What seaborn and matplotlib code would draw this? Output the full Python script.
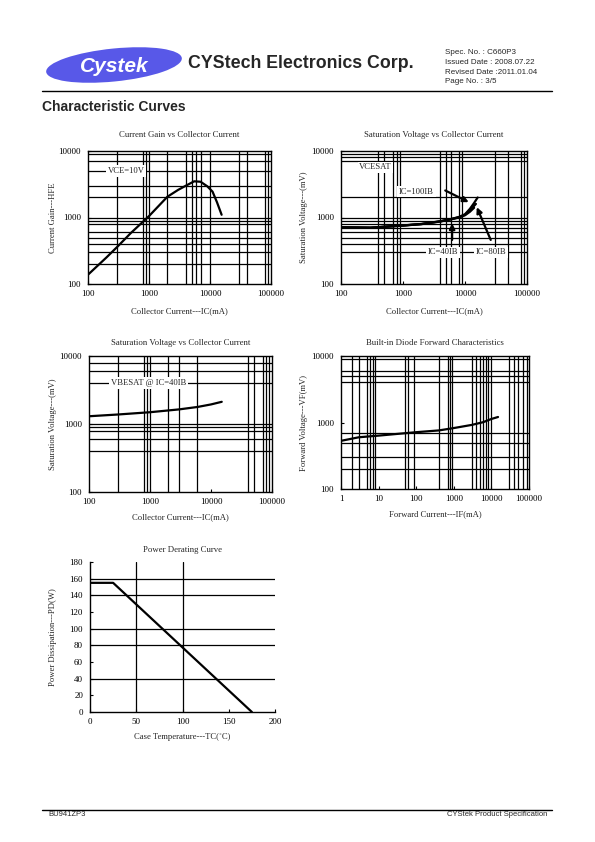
import matplotlib
matplotlib.use("Agg")
import matplotlib.pyplot as plt
from matplotlib.patches import Ellipse
from matplotlib.lines import Line2D
import seaborn as sns

# -------------------------
# Curve data
# -------------------------
gain_ic = [100, 200, 300, 500, 1000, 2000, 3000, 4000, 5500, 7000, 9000, 11000, 13000, 15500]
gain_hfe = [138, 250, 360, 580, 1050, 2050, 2600, 3000, 3500, 3450, 2950, 2450, 1700, 1100]

vce_ic_100 = [100, 300, 1000, 2000, 4000, 6000, 8000, 10000, 12000, 14000, 16000]
vce_100ib = [715, 705, 760, 800, 880, 950, 1020, 1120, 1350, 1650, 2000]
vce_ic_80 = [100, 300, 1000, 2000, 4000, 6000, 8000, 10000, 12000, 15000]
vce_80ib = [712, 702, 758, 798, 875, 945, 1010, 1100, 1280, 1600]
vce_ic_40 = [100, 300, 1000, 2000, 4000, 6000, 8000, 10000, 12000, 14000]
vce_40ib = [710, 700, 755, 795, 870, 940, 1000, 1080, 1220, 1400]

vbe_ic = [100, 300, 1000, 3000, 6000, 10000, 15000]
vbe_sat = [1300, 1380, 1490, 1640, 1780, 1940, 2120]

diode_if = [1, 3, 10, 100, 400, 1000, 3000, 6000, 10000, 15000]
diode_vf = [530, 600, 635, 715, 760, 825, 920, 1010, 1130, 1210]

derate_tc = [0, 25, 175]
derate_pd = [155, 155, 0]

# -------------------------
# Axis ticks and grid positions
# -------------------------
ic_ticks = [100, 1000, 10000, 100000]
if_ticks = [1, 10, 100, 1000, 10000, 100000]
mv_ticks = [100, 1000, 10000]
tc_ticks = [0, 50, 100, 150, 200]
pd_ticks = [0, 20, 40, 60, 80, 100, 120, 140, 160, 180]

gain_xgrid = [300, 800, 900, 1000, 2000, 4000, 5000, 6000, 7000, 10000, 30000, 40000, 80000, 90000]
gain_ygrid = [200, 300, 400, 500, 600, 800, 900, 1000, 2000, 3000, 5000, 7000, 9000]
vce_xgrid = [400, 500, 700, 800, 900, 4000, 5000, 6000, 8000, 9000, 30000, 50000, 80000, 90000]
vce_ygrid = [300, 400, 500, 600, 700, 800, 900, 1000, 2000, 7000, 8000, 9000]
vbe_xgrid = [300, 800, 900, 1000, 2000, 3000, 6000, 40000, 50000, 70000, 80000, 90000]
vbe_ygrid = [400, 600, 800, 900, 1000, 4000, 6000, 8000]
diode_xgrid = [2, 3, 5, 6, 7, 8, 50, 60, 90, 400, 700, 800, 900, 3000, 4000, 5000,
               6000, 7000, 8000, 10000, 30000, 40000, 50000, 70000, 90000]
diode_ygrid = [200, 300, 500, 700, 4000, 5000, 6000, 9000]
derate_xgrid = [50, 100]
derate_ygrid = [40, 80, 100, 140, 160]

W, H = 595, 842
SERIF = ["Liberation Serif", "DejaVu Serif"]
SANS = ["Liberation Sans", "DejaVu Sans"]

sns.set_theme(style="ticks")
plt.rcParams["font.family"] = SERIF
plt.rcParams["axes.linewidth"] = 1.0


def px_rect(left, top, right, bottom):
    return [left / W, 1 - bottom / H, (right - left) / W, (bottom - top) / H]


def style_panel(ax, title, xlabel, ylabel, xgrid, ygrid, label_dx, label_dy, title_pad):
    for g in xgrid:
        ax.axvline(g, color="black", lw=0.9, zorder=1)
    for g in ygrid:
        ax.axhline(g, color="black", lw=0.9, zorder=1)
    for sp in ax.spines.values():
        sp.set_color("black")
        sp.set_linewidth(1.0)
    ax.tick_params(direction="in", length=2.5, width=0.8, colors="black", labelsize=6.5)
    ax.tick_params(axis="x", pad=4)
    ax.tick_params(axis="y", pad=5)
    ax.set_title(title, fontsize=6.3, pad=title_pad)
    ax.set_xlabel(xlabel, fontsize=6.2)
    ax.set_ylabel(ylabel, fontsize=6.2)
    ax.xaxis.set_label_coords(0.5, label_dy)
    ax.yaxis.set_label_coords(label_dx, 0.5)
    ax.set_facecolor("white")


def log_panel(ax, xticks):
    ax.set_xscale("log")
    ax.set_yscale("log")
    ax.set_xlim(xticks[0], xticks[-1])
    ax.set_ylim(100, 10000)
    ax.set_xticks(xticks, [str(t) for t in xticks])
    ax.set_yticks(mv_ticks, [str(t) for t in mv_ticks])
    ax.minorticks_off()


fig = plt.figure(figsize=(W / 100, H / 100), dpi=100)
fig.patch.set_facecolor("white")

# -------------------------
# Page header / footer
# -------------------------
logo = Ellipse((114 / W, 1 - 65 / H), 136 / W, 33 / H, angle=4,
               transform=fig.transFigure, facecolor="#5858e8", edgecolor="none")
fig.patches.append(logo)
fig.text(114 / W, 1 - 67 / H, "Cystek", color="white", fontsize=15, fontweight="bold",
         fontstyle="italic", family=SANS, ha="center", va="center")
fig.text(188 / W, 1 - 64 / H, "CYStech Electronics Corp.", fontsize=12.8, fontweight="bold",
         family=SANS, ha="left", va="center")
spec_lines = ["Spec. No. : C660P3", "Issued Date : 2008.07.22",
              "Revised Date :2011.01.04", "Page No. : 3/5"]
for i, line in enumerate(spec_lines):
    fig.text(445 / W, 1 - (53 + 9.6 * i) / H, line, fontsize=5.8, family=SANS,
             ha="left", va="center")
fig.add_artist(Line2D([42 / W, 552 / W], [1 - 91 / H, 1 - 91 / H], color="black", lw=1.0))
fig.text(42 / W, 1 - 107 / H, "Characteristic Curves", fontsize=10, fontweight="bold",
         family=SANS, ha="left", va="center")
fig.add_artist(Line2D([42 / W, 552 / W], [1 - 810 / H, 1 - 810 / H], color="black", lw=1.0))
fig.text(48 / W, 1 - 815 / H, "BU941ZP3", fontsize=5.5, family=SANS, ha="left", va="center")
fig.text(547 / W, 1 - 815 / H, "CYStek Product Specification", fontsize=5.5, family=SANS,
         ha="right", va="center")

box = dict(facecolor="white", edgecolor="none", pad=1.2)
arrow = dict(arrowstyle="-|>", color="black", lw=1.6, mutation_scale=8, shrinkA=0, shrinkB=0)

# -------------------------
# Current gain
# -------------------------
ax1 = fig.add_axes(px_rect(88, 151, 271, 284))
log_panel(ax1, ic_ticks)
sns.lineplot(x=gain_ic, y=gain_hfe, ax=ax1, color="black", lw=1.6, zorder=3)
style_panel(ax1, "Current Gain vs Collector Current", "Collector Current---IC(mA)",
            "Current Gain---HFE", gain_xgrid, gain_ygrid, -0.17, -0.177, 10)
ax1.text(420, 5000, "VCE=10V", fontsize=6.2, ha="center", va="center", bbox=box, zorder=4)

# -------------------------
# VCE(sat)
# -------------------------
ax2 = fig.add_axes(px_rect(341, 151, 527, 284))
log_panel(ax2, ic_ticks)
sns.lineplot(x=vce_ic_40, y=vce_40ib, ax=ax2, color="black", lw=1.6, zorder=3)
sns.lineplot(x=vce_ic_80, y=vce_80ib, ax=ax2, color="black", lw=1.6, zorder=3)
sns.lineplot(x=vce_ic_100, y=vce_100ib, ax=ax2, color="black", lw=1.6, zorder=3)
style_panel(ax2, "Saturation Voltage vs Collector Current", "Collector Current---IC(mA)",
            "Saturation Voltage---(mV)", vce_xgrid, vce_ygrid, -0.178, -0.177, 10)
ax2.text(360, 5700, "VCESAT", fontsize=6.2, ha="center", va="center", bbox=box, zorder=4)
ax2.text(1650, 2450, "IC=100IB", fontsize=6.2, ha="center", va="center", bbox=box, zorder=4)
ax2.text(4400, 300, "IC=40IB", fontsize=6.2, ha="center", va="center", bbox=box, zorder=4)
ax2.text(26000, 300, "IC=80IB", fontsize=6.2, ha="center", va="center", bbox=box, zorder=4)
ax2.annotate("", xy=(11500, 1700), xytext=(4800, 2550), arrowprops=arrow, zorder=5)
ax2.annotate("", xy=(6200, 820), xytext=(6200, 460), arrowprops=arrow, zorder=5)
ax2.annotate("", xy=(15500, 1430), xytext=(26000, 460), arrowprops=arrow, zorder=5)

# -------------------------
# VBE(sat)
# -------------------------
ax3 = fig.add_axes(px_rect(89, 356, 272, 492))
log_panel(ax3, ic_ticks)
sns.lineplot(x=vbe_ic, y=vbe_sat, ax=ax3, color="black", lw=1.6, zorder=3)
style_panel(ax3, "Saturation Voltage vs Collector Current", "Collector Current---IC(mA)",
            "Saturation Voltage---(mV)", vbe_xgrid, vbe_ygrid, -0.177, -0.158, 8)
ax3.text(940, 4000, "VBESAT @ IC=40IB", fontsize=6.2, ha="center", va="center", bbox=box, zorder=4)

# -------------------------
# Diode forward
# -------------------------
ax4 = fig.add_axes(px_rect(341, 356, 529, 489))
log_panel(ax4, if_ticks)
sns.lineplot(x=diode_if, y=diode_vf, ax=ax4, color="black", lw=1.6, zorder=3)
style_panel(ax4, "Built-in Diode Forward Characteristics", "Forward Current---IF(mA)",
            "Forward Voltage---VF(mV)", diode_xgrid, diode_ygrid, -0.175, -0.162, 8)

# -------------------------
# Power derating
# -------------------------
ax5 = fig.add_axes(px_rect(90, 562, 275, 712))
sns.lineplot(x=derate_tc, y=derate_pd, ax=ax5, color="black", lw=1.6, zorder=3)
ax5.set_xlim(0, 200)
ax5.set_ylim(0, 180)
ax5.set_xticks(tc_ticks)
ax5.set_yticks(pd_ticks)
style_panel(ax5, "Power Derating Curve", "Case Temperature---TC(\u02daC)",
            "Power Dissipation---PD(W)", derate_xgrid, derate_ygrid, -0.18, -0.137, 7)
ax5.spines["top"].set_visible(False)
ax5.spines["right"].set_visible(False)

fig.savefig("out.png", dpi=100, facecolor="white")
